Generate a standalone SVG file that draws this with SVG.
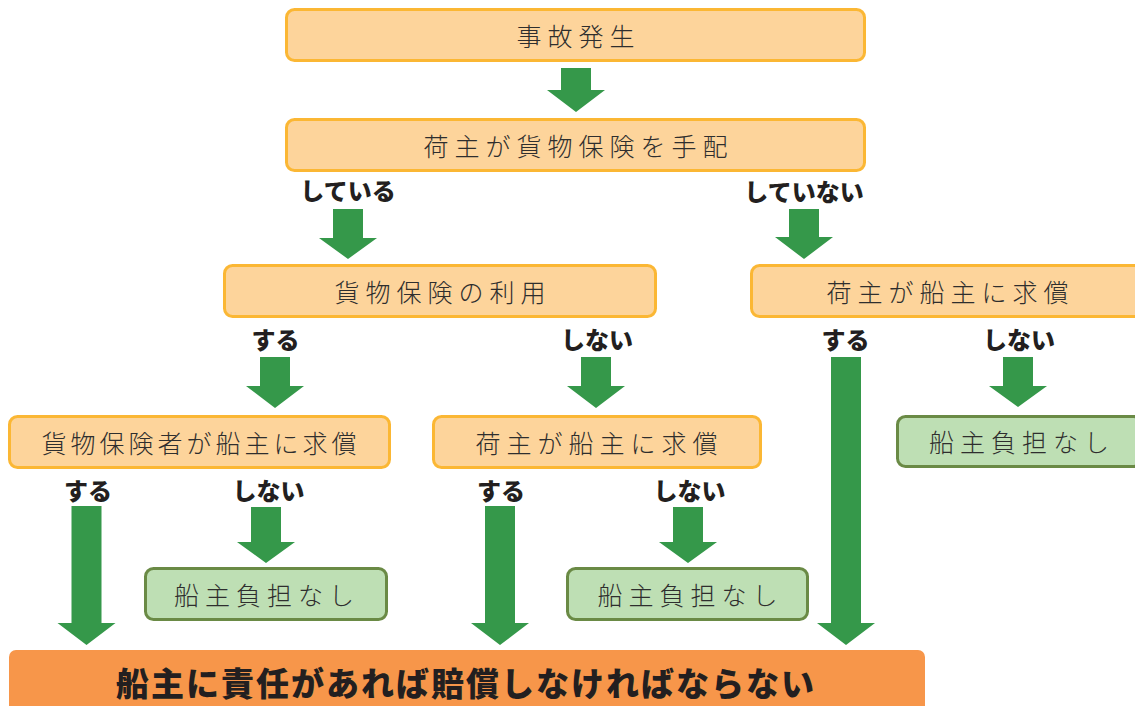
<svg xmlns="http://www.w3.org/2000/svg" width="1135" height="706" viewBox="0 0 1135 706">
<style>
.ob{fill:#FDD49B;stroke:#FBB734;stroke-width:3}
.gb{fill:#BEDFB4;stroke:#6A8A45;stroke-width:3}
.bt{font-family:"Noto Sans CJK JP","Noto Sans",sans-serif;font-weight:300;font-size:25px;fill:#2e2e2e;text-anchor:middle;dominant-baseline:central;letter-spacing:6px}
.lb{font-family:"Noto Sans CJK JP","Noto Sans",sans-serif;font-weight:900;font-size:24px;fill:#231F20;text-anchor:middle;dominant-baseline:central}
.ar{fill:#35984A}
.fin{fill:#F7964A}
.ft{font-family:"Noto Sans CJK JP","Noto Sans",sans-serif;font-weight:900;font-size:33px;fill:#231F20;text-anchor:middle;dominant-baseline:central;letter-spacing:2px}
</style>
<g id="connectors">
<path class="ar" d="M561,68 H591 V90 H605 L576,112 L547,90 H561 Z"/>
<path class="ar" d="M333,209 H363 V238 H377 L348,259 L319,238 H333 Z"/>
<path class="ar" d="M789,209 H819 V237 H833 L804,259 L775,237 H789 Z"/>
<path class="ar" d="M260,357 H290 V386 H304 L275,408 L246,386 H260 Z"/>
<path class="ar" d="M581,357 H611 V386 H625 L596,408 L567,386 H581 Z"/>
<path class="ar" d="M831,357 H861 V623 H875 L846,645 L817,623 H831 Z"/>
<path class="ar" d="M1003,357 H1033 V386 H1047 L1018,407 L989,386 H1003 Z"/>
<path class="ar" d="M71.5,506 H101.5 V623 H115.5 L86.5,645 L57.5,623 H71.5 Z"/>
<path class="ar" d="M251,507 H281 V542 H295 L266,563 L237,542 H251 Z"/>
<path class="ar" d="M485,506 H515 V623 H529 L500,645 L471,623 H485 Z"/>
<path class="ar" d="M673,507 H703 V542 H717 L688,563 L659,542 H673 Z"/>
<text class="lb" x="348" y="189">している</text>
<text class="lb" x="804" y="190">していない</text>
<text class="lb" x="275.5" y="338">する</text>
<text class="lb" x="597" y="338">しない</text>
<text class="lb" x="845.5" y="338">する</text>
<text class="lb" x="1019" y="338">しない</text>
<text class="lb" x="88" y="489">する</text>
<text class="lb" x="268.5" y="489">しない</text>
<text class="lb" x="501" y="489">する</text>
<text class="lb" x="689.5" y="489">しない</text>
</g>
<g id="n1"><rect class="ob" x="286.5" y="9.5" width="578" height="51" rx="8"/><text class="bt" x="578.5" y="35">事故発生</text></g>
<g id="n2"><rect class="ob" x="286.5" y="119.5" width="578" height="51" rx="8"/><text class="bt" x="578.5" y="145">荷主が貨物保険を手配</text></g>
<g id="n3"><rect class="ob" x="224.5" y="265.5" width="431" height="51" rx="8"/><text class="bt" x="443" y="291">貨物保険の利用</text></g>
<g id="n4"><rect class="ob" x="751.5" y="265.5" width="392" height="51" rx="8"/><text class="bt" x="950.5" y="291">荷主が船主に求償</text></g>
<g id="n5"><rect class="ob" x="9.5" y="416.5" width="380" height="51" rx="8"/><text class="bt" x="201" y="442" style="letter-spacing:4px">貨物保険者が船主に求償</text></g>
<g id="n6"><rect class="ob" x="433.5" y="416.5" width="327" height="51" rx="8"/><text class="bt" x="599.5" y="442">荷主が船主に求償</text></g>
<g id="n7"><rect class="gb" x="897.5" y="416.5" width="244" height="50" rx="8"/><text class="bt" x="1022" y="441">船主負担なし</text></g>
<g id="n8"><rect class="gb" x="145.5" y="568.5" width="241" height="51" rx="8"/><text class="bt" x="267" y="594">船主負担なし</text></g>
<g id="n9"><rect class="gb" x="567.5" y="568.5" width="240" height="51" rx="8"/><text class="bt" x="690.5" y="594">船主負担なし</text></g>
<g id="n10"><rect class="fin" x="9" y="650" width="916" height="70" rx="7"/><text class="ft" x="466" y="682">船主に責任があれば賠償しなければならない</text></g>
</svg>
